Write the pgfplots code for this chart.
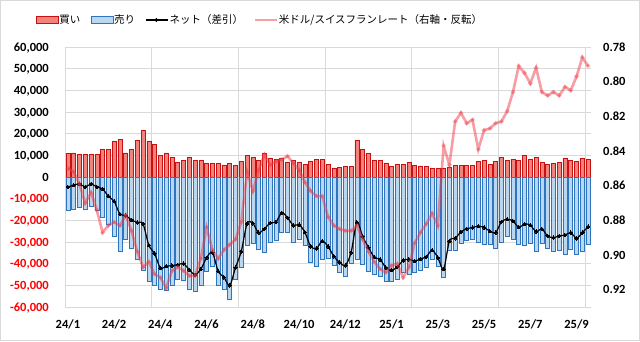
\documentclass[border=0pt]{standalone}
\usepackage{fontspec}
\setmainfont{Carlito}
\newfontfamily\jp{Noto Sans CJK JP}
\usepackage{pgfplots}
\usepackage{pgfplotstable}
\pgfplotsset{compat=1.18}
\definecolor{buyfill}{RGB}{242,130,124}
\definecolor{buyline}{RGB}{200,16,16}
\definecolor{sellfill}{RGB}{185,215,240}
\definecolor{sellline}{RGB}{46,117,190}
\definecolor{fxcol}{RGB}{240,60,72}
\definecolor{gridc}{RGB}{217,217,217}
\definecolor{negred}{RGB}{255,0,0}

\pgfplotstableread{
i buy sell net fx
0 10800 -15400 -4600 0.850
1 11100 -14900 -3800 0.852
2 10600 -13800 -3200 0.859
3 10300 -14900 -4600 0.870
4 10300 -13500 -3200 0.864
5 10600 -15200 -4600 0.874
6 12900 -18400 -5500 0.887
7 12900 -21800 -8900 0.883
8 16300 -27500 -11200 0.881
9 17200 -34300 -17100 0.883
10 11100 -28900 -17800 0.877
11 12900 -32700 -19800 0.886
12 16800 -37800 -21000 0.898
13 21400 -43000 -21600 0.907
14 16700 -48200 -31500 0.904
15 14900 -50200 -35300 0.911
16 9800 -51800 -42000 0.913
17 11100 -52300 -41200 0.919
18 9200 -50100 -40900 0.909
19 6800 -47300 -40500 0.907
20 7800 -47800 -40000 0.909
21 9200 -52000 -42800 0.912
22 7800 -52900 -45100 0.912
23 7700 -50200 -42500 0.902
24 6400 -43700 -37300 0.884
25 6400 -41200 -34800 0.897
26 6400 -49900 -43500 0.902
27 5500 -51800 -46300 0.897
28 6400 -56400 -50000 0.894
29 5500 -47300 -41800 0.891
30 7300 -41600 -34300 0.881
31 9800 -31300 -21500 0.852
32 9200 -30600 -21400 0.863
33 7800 -33500 -25700 0.851
34 11000 -34900 -23900 0.842
35 8800 -30000 -21200 0.848
36 8300 -29100 -20800 0.846
37 8800 -25300 -16500 0.845
38 6800 -25600 -18800 0.843
39 7800 -30100 -22300 0.847
40 6800 -28800 -22000 0.851
41 5800 -31300 -25500 0.858
42 7200 -39200 -32000 0.863
43 8300 -41300 -33000 0.866
44 8300 -37900 -29600 0.866
45 5700 -37700 -32000 0.878
46 4200 -40800 -36600 0.883
47 4600 -44000 -39400 0.885
48 4900 -45700 -40800 0.886
49 4900 -39700 -34800 0.886
50 17000 -37900 -20900 0.883
51 12600 -40100 -27500 0.891
52 10800 -43300 -32500 0.898
53 7700 -44700 -37000 0.904
54 7700 -45700 -38000 0.908
55 6500 -48300 -41800 0.910
56 4900 -47900 -43000 0.906
57 5700 -47200 -41500 0.905
58 5700 -44200 -38500 0.913
59 6800 -44800 -38000 0.907
60 5200 -44000 -38800 0.893
61 5100 -42900 -37800 0.887
62 4900 -41700 -36800 0.882
63 4000 -37800 -33800 0.876
64 4000 -41200 -37200 0.883
65 4000 -46500 -42500 0.837
66 4400 -34000 -29600 0.848
67 5400 -33700 -28300 0.823
68 5400 -30700 -25300 0.818
69 5400 -29300 -23900 0.824
70 5400 -28700 -23300 0.822
71 7300 -30000 -22700 0.839
72 7800 -31100 -23300 0.828
73 5900 -30900 -25000 0.827
74 7300 -33000 -25700 0.824
75 9200 -29900 -20700 0.823
76 7800 -27300 -19500 0.817
77 8300 -28600 -20300 0.806
78 7800 -31000 -23200 0.791
79 10000 -31700 -21700 0.795
80 8300 -30500 -22200 0.801
81 9200 -34400 -25200 0.792
82 6800 -30800 -24000 0.806
83 5900 -33100 -27200 0.808
84 6300 -34300 -28000 0.806
85 6800 -34000 -27200 0.808
86 8700 -35500 -26800 0.803
87 7800 -33500 -25700 0.805
88 7300 -35600 -28300 0.797
89 8700 -34400 -25700 0.786
90 8300 -31200 -22900 0.791
}\data

\begin{document}
\begin{tikzpicture}
\draw[gridc, line width=0.8pt, fill=white] (-64.6pt,-33.6pt) rectangle (574.6pt,306.6pt);
\begin{axis}[
  at={(0pt,0pt)}, anchor=south west,
  scale only axis, width=526pt, height=260pt,
  xmin=-0.5, xmax=90.5,
  ymin=-60000, ymax=60000,
  scaled y ticks=false,
  axis line style={draw=none},
  major tick length=0pt,
  xtick={0,8,...,88},
  xticklabels={24/1,24/2,24/4,24/6,24/8,24/10,24/12,25/1,25/3,25/5,25/7,25/9},
  ytick={-60000,-50000,-40000,-30000,-20000,-10000,0,10000,20000,30000,40000,50000,60000},
  yticklabels={{\textcolor{negred}{-60,000}},{\textcolor{negred}{-50,000}},{\textcolor{negred}{-40,000}},{\textcolor{negred}{-30,000}},{\textcolor{negred}{-20,000}},{\textcolor{negred}{-10,000}},{0},{10,000},{20,000},{30,000},{40,000},{50,000},{60,000}},
  ymajorgrids,
  major grid style={gridc, line width=0.75pt},
  extra x ticks={-0.5,14.5,29.5,44.5,59.5,74.5,89.5},
  extra x tick labels={},
  extra x tick style={grid=major, major grid style={gridc, line width=0.75pt}},
  /pgf/number format/assume math mode=true,
  ticklabel style={font=\bfseries\fontsize{12.5}{14}\selectfont, inner sep=0pt},
  yticklabel style={anchor=base east, xshift=-16pt, yshift=-4pt},
  xticklabel style={anchor=base, yshift=-21pt},
]
\addplot[ybar, bar width=4pt, bar shift=0pt, fill=buyfill, draw=buyline, line width=0.55pt] table[x=i, y=buy] {\data};
\addplot[ybar, bar width=4pt, bar shift=0pt, fill=sellfill, draw=sellline, line width=0.55pt] table[x=i, y=sell] {\data};
\addplot[black, line width=1.2pt, smooth, mark=*, mark size=1.7pt, mark options={fill=black, draw=black, line width=0pt}] table[x=i, y=net] {\data};
\end{axis}
\begin{axis}[
  at={(0pt,0pt)}, anchor=south west,
  scale only axis, width=526pt, height=260pt,
  xmin=-0.5, xmax=90.5,
  ymin=0.78, ymax=0.93, y dir=reverse,
  axis x line=none, axis y line*=right,
  axis line style={draw=none},
  major tick length=0pt,
  ytick={0.78,0.8,0.82,0.84,0.86,0.88,0.9,0.92},
  yticklabels={0.78,0.80,0.82,0.84,0.86,0.88,0.90,0.92},
  /pgf/number format/assume math mode=true,
  ticklabel style={font=\bfseries\fontsize{12.5}{14}\selectfont, inner sep=0pt},
  yticklabel style={anchor=base west, xshift=12pt, yshift=-4pt},
  legend columns=4,
  legend style={at={(axis description cs:-0.0551,1.104)}, anchor=west, draw=none, fill=none,
    inner sep=0pt, font=\jp\fontsize{10.5}{12}\selectfont,
    nodes={inner sep=0.6pt},
    /tikz/every even column/.append style={column sep=10pt}},
]
\addlegendimage{legend image code/.code={\draw[fill=buyfill, draw=buyline, line width=0.6pt] (0pt,-3.8pt) rectangle (22pt,3.8pt);}}
\addlegendentry{買い}
\addlegendimage{legend image code/.code={\draw[fill=sellfill, draw=sellline, line width=0.6pt] (0pt,-3.8pt) rectangle (22pt,3.8pt);}}
\addlegendentry{売り}
\addlegendimage{legend image code/.code={\draw[black, line width=1.2pt] (0pt,0pt) -- (22pt,0pt); \fill[black] (10pt,0pt) circle (1.7pt);}}
\addlegendentry{ネット（差引）}
\addplot[fxcol, opacity=0.5, line width=2.6pt, mark=*, mark size=0.7pt, mark options={draw=none, fill=fxcol, opacity=0.35},
  legend image code/.code={\draw[fxcol, opacity=0.5, line width=2.6pt] (0pt,0pt) -- (22pt,0pt);}] table[x=i, y=fx] {\data};
\addlegendentry{米ドル/スイスフランレート（右軸・反転）}
\end{axis}
\end{tikzpicture}
\end{document}
